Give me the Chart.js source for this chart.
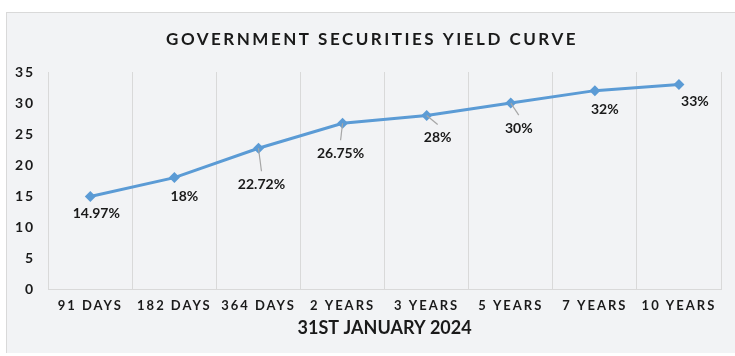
<!DOCTYPE html>
<html>
<head>
<meta charset="utf-8">
<script src="https://cdn.jsdelivr.net/npm/chart.js@4.4.1/dist/chart.umd.min.js"></script>
<style>
  body { margin: 0; background: #fff; }
  #frame {
    position: absolute; left: 6px; top: 12px; width: 735px; height: 340px;
    background: #f2f3f5; border-left: 1px solid #d9d9d9; border-top: 1px solid #d9d9d9;
  }
  #yieldChart { position: absolute; left: 0; top: 0; }
</style>
</head>
<body>
<div id="frame"></div>
<canvas id="yieldChart" width="735" height="356"></canvas>
<script>
const fontFamily = "Lato, 'Noto Sans', sans-serif";
const lineColor = "#5b9bd5";

// data
const tenors = ["91 DAYS", "182 DAYS", "364 DAYS", "2 YEARS", "3 YEARS", "5 YEARS", "7 YEARS", "10 YEARS"];
const yields = [14.97, 18, 22.72, 26.75, 28, 30, 32, 33];
const yieldLabels = ["14.97%", "18%", "22.72%", "26.75%", "28%", "30%", "32%", "33%"];
const yTicks = [0, 5, 10, 15, 20, 25, 30, 35];
const chartTitleText = "GOVERNMENT SECURITIES YIELD CURVE";
const xTitleText = "31ST JANUARY 2024";

// where each label sits relative to its point, and whether it gets a leader line
const labelOffsets = [[6, 17], [10, 19], [3, 36], [-2, 30], [11, 22], [8, 25], [10, 19], [16, 17]];
const leaders = [false, false, true, true, true, true, false, false];

const pointLabels = {
    id: 'pointLabels',
    beforeDraw(chart) {
        // spaced-out axis lettering
        chart.ctx.letterSpacing = '2px';
    },
    afterDatasetsDraw(chart) {
        const ctx = chart.ctx;
        const meta = chart.getDatasetMeta(0);
        ctx.save();
        ctx.letterSpacing = '0px';
        ctx.font = "bold 14px " + fontFamily;
        ctx.textAlign = 'center';
        ctx.textBaseline = 'middle';
        meta.data.forEach((pt, i) => {
            const cx = pt.x + labelOffsets[i][0];
            const cy = pt.y + labelOffsets[i][1];
            if (leaders[i]) {
                ctx.beginPath();
                ctx.strokeStyle = "#a6a6a6";
                ctx.lineWidth = 1.2;
                ctx.moveTo(pt.x, pt.y);
                ctx.lineTo(cx, cy - 13);
                ctx.stroke();
            }
            ctx.fillStyle = "#1a1a1a";
            ctx.fillText(yieldLabels[i], cx, cy);
        });
        ctx.restore();
    },
    afterDraw(chart) {
        chart.ctx.letterSpacing = '0px';
    }
};

const titles = {
    id: 'titles',
    afterDraw(chart) {
        const ctx = chart.ctx;
        const area = chart.chartArea;
        ctx.save();
        ctx.textAlign = 'center';
        ctx.textBaseline = 'middle';
        ctx.fillStyle = "#1a1a1a";
        ctx.letterSpacing = '2.5px';
        ctx.font = "bold 17px " + fontFamily;
        ctx.fillText(chartTitleText, 372, 40);
        ctx.letterSpacing = '0px';
        ctx.font = "bold 18px " + fontFamily;
        ctx.fillText(xTitleText, (area.left + area.right) / 2, 328);
        ctx.restore();
    }
};

new Chart("yieldChart", {
    type: "line",
    data: {
        labels: tenors,
        datasets: [{
            data: yields,
            borderColor: lineColor,
            backgroundColor: lineColor,
            borderWidth: 3,
            pointStyle: 'rectRot',
            pointRadius: 5.5,
            pointBorderWidth: 0,
            tension: 0,
        }],
    },
    options: {
        responsive: false,
        animation: false,
        layout: {
            padding: { top: 72, left: 6, right: 14, bottom: 33 },
        },
        plugins: {
            legend: { display: false },
            tooltip: { enabled: false },
            title: { display: false },
        },
        scales: {
            x: {
                offset: true,
                grid: {
                    offset: true,
                    color: "#d9d9d9",
                    drawTicks: false,
                },
                border: { color: "#d9d9d9" },
                ticks: {
                    autoSkip: false,
                    maxRotation: 0,
                    minRotation: 0,
                    padding: 9,
                    color: "#1a1a1a",
                    font: { family: fontFamily, size: 13, weight: 'bold' },
                },
            },
            y: {
                min: 0,
                max: 35,
                afterBuildTicks(scale) {
                    scale.ticks = yTicks.map(v => ({ value: v }));
                },
                grid: { display: false, drawTicks: false },
                border: { display: false },
                ticks: {
                    padding: 13,
                    color: "#1a1a1a",
                    font: { family: fontFamily, size: 14, weight: 'bold' },
                },
            },
        },
    },
    plugins: [pointLabels, titles],
});
</script>
</body>
</html>
